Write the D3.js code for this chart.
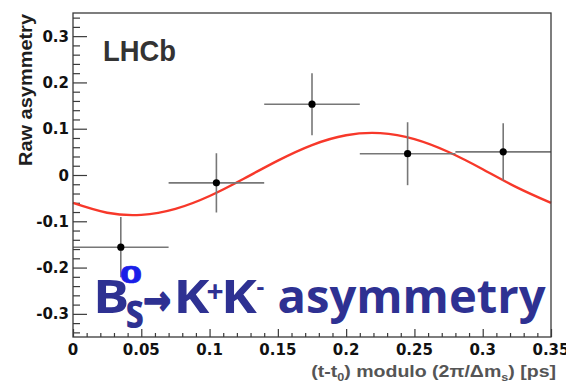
<!DOCTYPE html>
<html>
<head>
<meta charset="utf-8">
<script src="https://cdn.jsdelivr.net/npm/d3@7"></script>
<style>
  html, body { margin: 0; padding: 0; background: #fff; }
  svg { display: block; }
</style>
</head>
<body>
<svg id="chart" width="566" height="384"></svg>
<script>
// Binned raw asymmetry, folded modulo the oscillation period
const binLow    = [0.00, 0.07, 0.14, 0.21, 0.28];
const binHigh   = [0.07, 0.14, 0.21, 0.28, 0.35];
const binCenter = [0.035, 0.105, 0.175, 0.245, 0.315];
const asymmetry = [-0.156, -0.017, 0.153, 0.046, 0.050];
const asymError = [0.065, 0.064, 0.067, 0.068, 0.062];

// Fitted oscillation, sampled along the folded time axis
const fitT = [0, 0.025, 0.05, 0.075, 0.1, 0.125, 0.15, 0.175, 0.2, 0.225, 0.25, 0.275, 0.3, 0.325, 0.35];
const fitA = [-0.0603, -0.0815, -0.0861, -0.0732, -0.0454, -0.0081, 0.0311, 0.0647, 0.0859, 0.0905, 0.0776, 0.0497, 0.0125, -0.0267, -0.0603];

// Axis ticks and labels
const xTicks      = [0, 0.05, 0.1, 0.15, 0.2, 0.25, 0.3, 0.35];
const xTickLabels = ["0", "0.05", "0.1", "0.15", "0.2", "0.25", "0.3", "0.35"];
const yTicks      = [-0.3, -0.2, -0.1, 0, 0.1, 0.2, 0.3];
const yTickLabels = ["-0.3", "-0.2", "-0.1", "0", "0.1", "0.2", "0.3"];

const svg = d3.select("#chart");
const L = 73, R = 551, T = 13, B = 337;

const x = d3.scaleLinear().domain([0, 0.35]).range([L, R]);
const y = d3.scaleLinear().domain([-0.35, 0.35]).range([B, T]);

const axisColor = "#3a3a3a";
const labelFont = "'DejaVu Sans', sans-serif";

// minor ticks
const xMinor = d3.range(0, 0.3501, 0.01).filter(v => !xTicks.some(t => Math.abs(t - v) < 1e-6));
const yMinor = d3.range(-0.34, 0.3401, 0.02).filter(v => !yTicks.some(t => Math.abs(t - v) < 1e-6));

const gx = svg.append("g").attr("transform", `translate(0,${B})`);
gx.call(d3.axisTop(x).tickValues(xTicks).tickSize(8).tickFormat(""));
gx.call(g => g.select(".domain").remove());
const gxm = svg.append("g").attr("transform", `translate(0,${B})`);
gxm.call(d3.axisTop(x).tickValues(xMinor).tickSize(4).tickFormat(""));
gxm.call(g => g.select(".domain").remove());

const gy = svg.append("g").attr("transform", `translate(${L},0)`);
gy.call(d3.axisRight(y).tickValues(yTicks).tickSize(14).tickFormat(""));
gy.call(g => g.select(".domain").remove());
const gym = svg.append("g").attr("transform", `translate(${L},0)`);
gym.call(d3.axisRight(y).tickValues(yMinor).tickSize(7).tickFormat(""));
gym.call(g => g.select(".domain").remove());

svg.selectAll(".tick line").attr("stroke", axisColor).attr("stroke-width", 1.2);

// tick labels
svg.append("g").selectAll("text").data(xTicks).join("text")
  .attr("x", d => x(d)).attr("y", B + 18)
  .attr("text-anchor", "middle")
  .attr("font-family", labelFont).attr("font-weight", "bold").attr("font-size", 15)
  .attr("fill", "#111")
  .text((d, i) => xTickLabels[i]);

svg.append("g").selectAll("text").data(yTicks).join("text")
  .attr("x", 69).attr("y", d => y(d) + 5.5)
  .attr("text-anchor", "end")
  .attr("font-family", labelFont).attr("font-weight", "bold").attr("font-size", 15)
  .attr("fill", "#111")
  .text((d, i) => yTickLabels[i]);

// scale a text node horizontally so it spans a given width
function fitWidth(sel, tx, ty, width) {
  const w = sel.node().getComputedTextLength();
  sel.attr("x", 0).attr("y", 0)
     .attr("transform", `translate(${tx},${ty}) scale(${width / w},1)`);
}
function fitWidthRot(sel, tx, ty, width) {
  const w = sel.node().getComputedTextLength();
  sel.attr("x", 0).attr("y", 0)
     .attr("transform", `translate(${tx},${ty}) rotate(-90) scale(${width / w},1)`);
}

// fitted curve
const line = d3.line().x((d, i) => x(fitT[i])).y(d => y(d)).curve(d3.curveNatural);
svg.append("path")
  .datum(fitA)
  .attr("d", line)
  .attr("fill", "none")
  .attr("stroke", "#f7382a")
  .attr("stroke-width", 2.4);

// error bars and points
const pts = svg.append("g");
asymmetry.forEach((v, i) => {
  pts.append("line")
    .attr("x1", x(binLow[i])).attr("x2", x(binHigh[i]))
    .attr("y1", y(v)).attr("y2", y(v))
    .attr("stroke", "#777").attr("stroke-width", 1.6);
  pts.append("line")
    .attr("x1", x(binCenter[i])).attr("x2", x(binCenter[i]))
    .attr("y1", y(v - asymError[i])).attr("y2", y(v + asymError[i]))
    .attr("stroke", "#777").attr("stroke-width", 1.6);
});
pts.selectAll("circle").data(asymmetry).join("circle")
  .attr("cx", (d, i) => x(binCenter[i])).attr("cy", d => y(d))
  .attr("r", 3.6).attr("fill", "#000");

// frame
svg.append("rect")
  .attr("x", L).attr("y", T).attr("width", R - L).attr("height", B - T)
  .attr("fill", "none").attr("stroke", axisColor).attr("stroke-width", 1.3);

// LHCb label
const lhcb = svg.append("text")
  .attr("font-family", "'Liberation Sans', Arial, sans-serif")
  .attr("font-weight", "bold").attr("font-size", 29)
  .attr("fill", "#333").text("LHCb");
fitWidth(lhcb, 103, 61, 73);

// axis titles
const yTitle = svg.append("text")
  .attr("font-family", "'Liberation Sans', Arial, sans-serif")
  .attr("font-weight", "bold").attr("font-size", 18)
  .attr("text-anchor", "end")
  .attr("fill", "#1e1e1e").text("Raw asymmetry");
fitWidthRot(yTitle, 32, 14, 152);

const xTitle = svg.append("text")
  .attr("font-family", "'Liberation Sans', Arial, sans-serif")
  .attr("font-weight", "bold").attr("font-size", 17)
  .attr("text-anchor", "end")
  .attr("fill", "#555");
xTitle.append("tspan").text("(t-t");
xTitle.append("tspan").attr("font-size", 11).attr("dy", 4).text("0");
xTitle.append("tspan").attr("dy", -4).text(") modulo (2\u03C0/\u0394m");
xTitle.append("tspan").attr("font-size", 11).attr("dy", 4).text("s");
xTitle.append("tspan").attr("dy", -4).text(") [ps]");
fitWidth(xTitle, 556, 377, 245);

// decay label: B_s^0 -> K+ K- asymmetry
const dark = "#2e3192", bright = "#1a1ee8";
const big = svg.append("g")
  .attr("font-family", "'Open Sans', 'Liberation Sans', sans-serif")
  .attr("font-weight", "bold");
function piece(txt, px, py, size, sx, color, family, stroke) {
  const t = big.append("text")
    .attr("transform", `translate(${px},${py}) scale(${sx},1)`)
    .attr("font-size", size).attr("fill", color).text(txt);
  if (family) t.attr("font-family", family);
  if (stroke) t.attr("stroke", color).attr("stroke-width", stroke).attr("stroke-linejoin", "round");
  return t;
}
piece("B", 93, 313, 47, 1.15, dark);
piece("0", 120, 283, 24, 1.6, bright, null, 0.6);
piece("s", 125.5, 328, 48, 0.78, dark);
piece("\u2192", 143.5, 314, 40, 0.82, dark, "'DejaVu Sans', sans-serif", 2.0);
piece("K", 173.5, 313, 47, 1.15, dark);
piece("+", 206.5, 301.5, 30, 1.0, dark);
piece("K", 221, 313, 47, 1.15, dark);
piece("-", 256.5, 294.5, 24, 1.0, dark);
const asymText = big.append("text")
  .attr("font-size", 47).attr("fill", dark).text("asymmetry");
fitWidth(asymText, 277.5, 313, 268);
</script>
</body>
</html>
